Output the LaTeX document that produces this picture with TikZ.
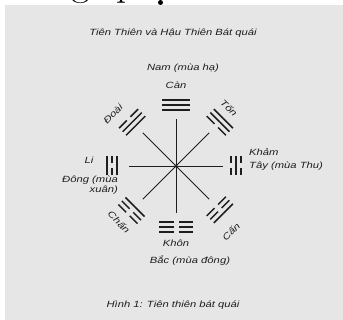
\documentclass[tikz,border=0pt]{standalone}
\usepackage{fontspec}
\usepackage{graphicx}
\newfontfamily\labfont{Liberation Sans}
\definecolor{pagegray}{RGB}{230,230,230}
\definecolor{ink}{RGB}{30,30,30}
\newcommand\widen[1]{\scalebox{1.25}[1]{#1}}
\tikzset{
  lab/.style={font=\labfont\itshape\fontsize{9}{10}\selectfont, text=ink, inner sep=0pt},
  spoke/.style={draw=ink, line width=0.9pt},
  bar/.style={draw=ink, line width=1.5pt},
  bigserif/.style={anchor=base, inner sep=0pt, font=\fontsize{40}{40}\selectfont},
}
\begin{document}
\begin{tikzpicture}[x=1pt,y=1pt]
\useasboundingbox (0,0) rectangle (343,320);
\clip (0,0) rectangle (343,320);
\fill[white] (0,0) rectangle (343,320);
% cut-off text of the page above
\node[bigserif] (topg) at (81,324) {g};
\node[bigserif] (topp) at (127,324) {p};
\fill (160.5,317.5) circle (2.5);
% scanned page
\fill[pagegray] (5,0) rectangle (343,315);
% spokes
\coordinate (C) at (176,154);
\foreach \a in {0,45,...,315} {
  \path (C) ++(\a:47) coordinate (e\a);
  \draw[spoke] (C) -- (e\a);
}
\fill[ink] (C) circle (1.6);
% trigrams: angle/radius/length/gap inner/middle/outer
\foreach \ang/\rad/\len/\ga/\gb/\gc in {
  90/61/28/0/0/0, 135/62/27/0/0/5, 180/64/19/0/5/0, 225/63/27/0/5/5,
  270/61/34/5/5/5, 315/62/27/5/5/0, 0/60/19/5/0/5, 45/62/27/5/0/0} {
  \begin{scope}[shift={(C)}, rotate=\ang-90]
    \foreach \k/\g in {-1/\ga, 0/\gb, 1/\gc} {
      \draw[bar] (-\len/2, \rad+\k*5) -- (-\g/2, \rad+\k*5);
      \draw[bar] (\g/2, \rad+\k*5) -- (\len/2, \rad+\k*5);
    }
  \end{scope}
}
% labels
\node[lab] (title) at (173,287) {\widen{Tiên Thiên và Hậu Thiên Bát quái}};
\node[lab] (nam) at (183,252) {\widen{Nam (mùa hạ)}};
\node[lab] (can) at (176,235) {\widen{Càn}};
\node[lab, rotate=45] (doai) at (113,206) {\widen{Đoài}};
\node[lab, rotate=-45] (ton) at (229,212) {\widen{Tốn}};
\node[lab] (li) at (89,160) {\widen{Li}};
\node[lab, anchor=east] (dong1) at (118,140) {\widen{Đông (mùa}};
\node[lab, anchor=east] (dong2) at (118,130) {\widen{xuân)}};
\node[lab, anchor=west] (kham) at (249,168) {\widen{Khảm}};
\node[lab, anchor=west] (tay) at (249,154) {\widen{Tây (mùa Thu)}};
\node[lab, rotate=-45] (chan) at (119,98) {\widen{Chấn}};
\node[lab, rotate=45] (cann) at (231,88) {\widen{Cấn}};
\node[lab] (khon) at (176,77) {\widen{Khôn}};
\node[lab] (bac) at (190,59) {\widen{Bắc (mùa đông)}};
\node[lab] (caption) at (173,15) {\widen{Hình 1: Tiên thiên bát quái}};
\end{tikzpicture}
\end{document}
